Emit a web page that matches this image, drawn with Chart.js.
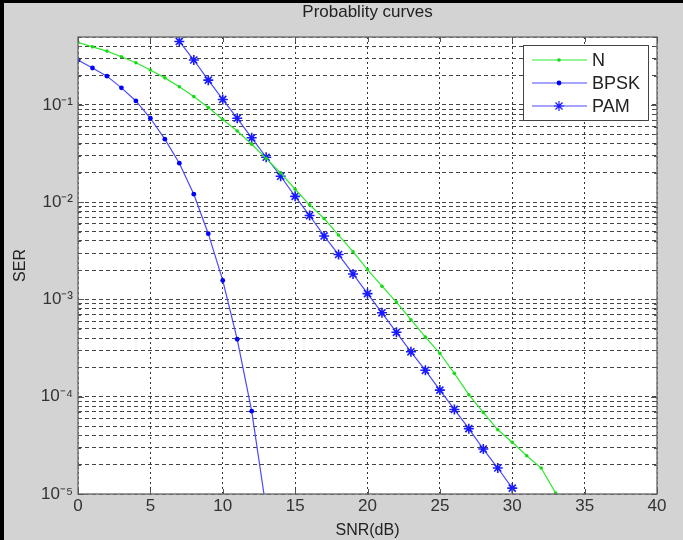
<!DOCTYPE html>
<html>
<head>
<meta charset="utf-8">
<script src="https://cdn.jsdelivr.net/npm/chart.js@4.4.1/dist/chart.umd.min.js"></script>
<style>
  html, body { margin: 0; padding: 0; background: #d3d3d3; }
  #wrap { position: relative; width: 683px; height: 540px; }
</style>
</head>
<body>
<div id="wrap"><canvas id="myChart" width="683" height="540"></canvas></div>
<script>
// SNR (dB) and symbol error rate
const snrN = [0, 1, 2, 3, 4, 5, 6, 7, 8, 9, 10, 11, 12, 13, 14, 15, 16, 17, 18, 19, 20,
  21, 22, 23, 24, 25, 26, 27, 28, 29, 30, 31, 32, 33];
const serN = [0.44, 0.396, 0.358, 0.313, 0.272, 0.229, 0.19, 0.154, 0.122, 0.094, 0.071,
  0.054, 0.0395, 0.0282, 0.020, 0.0136, 0.0094, 0.0068, 0.0046, 0.0031, 0.00203,
  0.00137, 0.00094, 0.00062, 0.00041, 0.00028, 0.000174, 0.000105, 0.000069,
  0.0000457, 0.000034, 0.0000247, 0.0000185, 0.0000102];

const snrBPSK = [0, 1, 2, 3, 4, 5, 6, 7, 8, 9, 10, 11, 12, 13];
const serBPSK = [0.29, 0.24, 0.198, 0.150, 0.110, 0.073, 0.0445, 0.0252, 0.0121,
  0.00475, 0.00157, 0.00039, 0.000071, 0.000007];

const snrPAM = [7, 8, 9, 10, 11, 12, 13, 14, 15, 16, 17, 18, 19, 20, 21, 22, 23, 24,
  25, 26, 27, 28, 29, 30];
const serPAM = [0.45, 0.29, 0.18, 0.114, 0.073, 0.046, 0.029, 0.0185, 0.0115, 0.0073,
  0.0045, 0.0029, 0.00183, 0.00115, 0.00073, 0.00046, 0.00029, 0.000187, 0.000117,
  0.000074, 0.000047, 0.000029, 0.0000185, 0.0000115];

const xTicks = [0, 5, 10, 15, 20, 25, 30, 35, 40];
const yDecades = [-5, -4, -3, -2, -1];
const yMin = 1e-5, yMax = 0.5;

// minor log grid: 1..9 x 10^e
const yTicks = [];
yDecades.forEach(e => {
  for (let m = 1; m <= 9; m++) {
    const v = m * Math.pow(10, e);
    if (v <= yMax + 1e-12) yTicks.push(v);
  }
});

const sup = { '-': '\u207B', '0': '\u2070', '1': '\u00B9', '2': '\u00B2', '3': '\u00B3',
  '4': '\u2074', '5': '\u2075' };
function isDecade(v) {
  const l = Math.log10(v);
  return Math.abs(l - Math.round(l)) < 1e-6;
}

const font = 'Liberation Sans, Arial, sans-serif';
const pts = (xs, ys) => xs.map((x, i) => ({ x: x, y: ys[i] }));

const framePlugin = {
  id: 'frame',
  beforeDraw(chart) {
    const { ctx, chartArea: a } = chart;
    ctx.save();
    ctx.fillStyle = '#ffffff';
    ctx.fillRect(a.left, a.top, a.right - a.left, a.bottom - a.top);
    ctx.restore();
  },
  afterDraw(chart) {
    const { ctx, chartArea: a } = chart;
    const xs = chart.scales.x, ys = chart.scales.y;
    ctx.save();
    // axes box
    ctx.strokeStyle = '#777777';
    ctx.lineWidth = 1.5;
    ctx.strokeRect(a.left, a.top, a.right - a.left, a.bottom - a.top);
    // inward tick marks
    ctx.strokeStyle = '#555555';
    ctx.lineWidth = 1;
    ctx.beginPath();
    xTicks.forEach(v => {
      const px = Math.round(xs.getPixelForValue(v)) + 0.5;
      ctx.moveTo(px, a.bottom); ctx.lineTo(px, a.bottom - 5);
      ctx.moveTo(px, a.top); ctx.lineTo(px, a.top + 5);
    });
    yTicks.forEach(v => {
      const py = Math.round(ys.getPixelForValue(v)) + 0.5;
      const len = isDecade(v) ? 6 : 3;
      ctx.moveTo(a.left, py); ctx.lineTo(a.left + len, py);
      ctx.moveTo(a.right, py); ctx.lineTo(a.right - len, py);
    });
    ctx.stroke();

    // legend
    const bw = 125, bh = 75;
    const bx = a.right - 9 - bw, by = a.top + 8;
    ctx.fillStyle = '#ffffff';
    ctx.fillRect(bx, by, bw, bh);
    ctx.strokeStyle = '#444444';
    ctx.lineWidth = 1;
    ctx.strokeRect(bx + 0.5, by + 0.5, bw, bh);
    chart.data.datasets.forEach((ds, i) => {
      const cy = by + 15 + i * 23;
      ctx.strokeStyle = ds.borderColor;
      ctx.lineWidth = ds.borderWidth;
      ctx.beginPath();
      ctx.moveTo(bx + 9, cy); ctx.lineTo(bx + 64, cy);
      ctx.stroke();
      ctx.fillStyle = ds.pointBackgroundColor;
      ctx.strokeStyle = ds.pointBorderColor;
      Chart.helpers.drawPoint(ctx, { pointStyle: ds.pointStyle, radius: ds.pointRadius,
        borderWidth: ds.pointBorderWidth, rotation: 0 }, bx + 36, cy);
      ctx.fillStyle = '#222222';
      ctx.font = '18px ' + font;
      ctx.textBaseline = 'middle';
      ctx.textAlign = 'left';
      ctx.fillText(ds.label, bx + 69, cy + 1);
    });

    // black edge of the screenshot
    ctx.fillStyle = '#000000';
    ctx.fillRect(0, 0, chart.width, 3);
    ctx.fillRect(0, 0, 4, chart.height);
    ctx.restore();
  }
};

const ctx = document.getElementById('myChart');

new Chart(ctx, {
  type: 'line',
  data: {
    datasets: [
      {
        label: 'N',
        data: pts(snrN, serN),
        borderColor: '#2ee82e',
        borderWidth: 1.2,
        pointStyle: 'circle',
        pointRadius: 1.8,
        pointBorderWidth: 0,
        pointBackgroundColor: '#18d818',
        pointBorderColor: '#18d818',
        tension: 0
      },
      {
        label: 'BPSK',
        data: pts(snrBPSK, serBPSK),
        borderColor: '#4a4aff',
        borderWidth: 1.2,
        pointStyle: 'circle',
        pointRadius: 2.4,
        pointBorderWidth: 0,
        pointBackgroundColor: '#0000ff',
        pointBorderColor: '#0000ff',
        tension: 0
      },
      {
        label: 'PAM',
        data: pts(snrPAM, serPAM),
        borderColor: '#4a4aff',
        borderWidth: 1.2,
        pointStyle: 'star',
        pointRadius: 5,
        pointBorderWidth: 1.6,
        pointBackgroundColor: '#0000ff',
        pointBorderColor: '#1a1aff',
        tension: 0
      }
    ]
  },
  options: {
    responsive: false,
    animation: false,
    devicePixelRatio: 1,
    layout: { padding: { top: 0, right: 26, bottom: 0, left: 0 } },
    plugins: {
      legend: { display: false },
      tooltip: { enabled: false },
      title: {
        display: true,
        fullSize: false,
        text: 'Probablity curves',
        color: '#222222',
        font: { family: font, size: 17, weight: 'normal' },
        padding: { top: 2, bottom: 14.6 }
      }
    },
    scales: {
      x: {
        type: 'linear',
        min: 0,
        max: 40,
        afterBuildTicks: s => { s.ticks = xTicks.map(v => ({ value: v })); },
        afterFit: s => { s.height = 46; },
        ticks: { color: '#333333', font: { family: font, size: 17 }, padding: 2, maxRotation: 0, autoSkip: false },
        grid: { color: '#333333', lineWidth: 1, drawTicks: false },
        border: { display: false, dash: [2, 3] },
        title: { display: true, text: 'SNR(dB)', color: '#222222',
          font: { family: font, size: 16 }, padding: { top: 0, bottom: 0 } }
      },
      y: {
        type: 'logarithmic',
        min: yMin,
        max: yMax,
        afterBuildTicks: s => { s.ticks = yTicks.map(v => ({ value: v, major: isDecade(v) })); },
        afterFit: s => { s.width = 78; },
        ticks: {
          color: '#333333',
          font: { family: font, size: 17 },
          padding: 5,
          autoSkip: false,
          callback: v => {
            if (!isDecade(v)) return '';
            const e = String(Math.round(Math.log10(v)));
            return '10' + e.split('').map(c => sup[c]).join('');
          }
        },
        grid: { color: '#444444', lineWidth: 1, drawTicks: false },
        border: { display: false, dash: [4, 3] },
        title: { display: true, text: 'SER', color: '#222222',
          font: { family: font, size: 16 }, padding: { top: 11, bottom: 0 } }
      }
    }
  },
  plugins: [framePlugin]
});
</script>
</body>
</html>
